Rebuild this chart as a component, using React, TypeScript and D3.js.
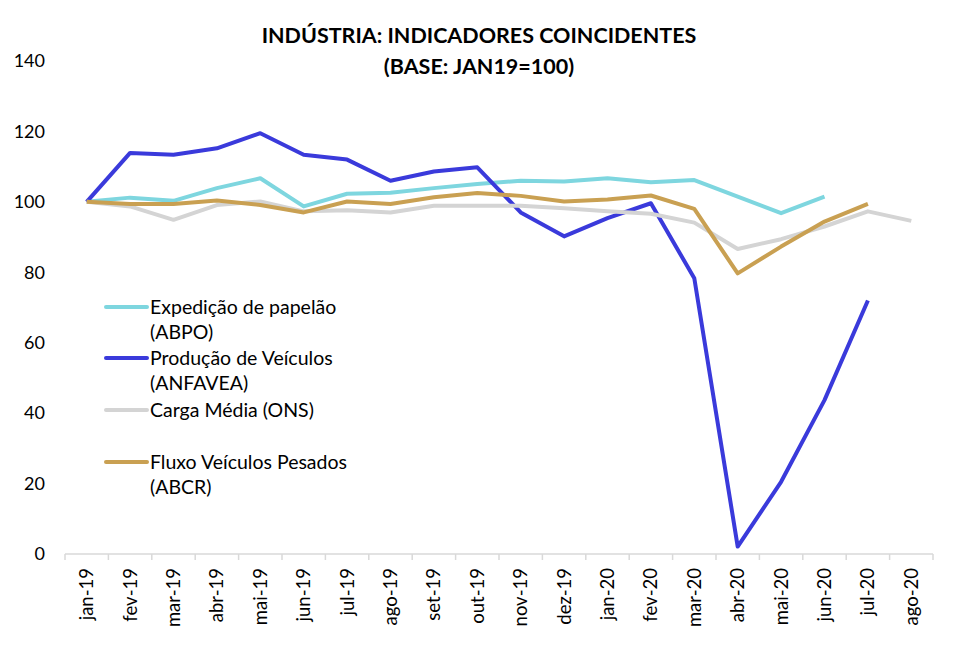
import React from "react";
import * as d3 from "d3";

const months = ["jan-19","fev-19","mar-19","abr-19","mai-19","jun-19","jul-19","ago-19","set-19","out-19","nov-19","dez-19","jan-20","fev-20","mar-20","abr-20","mai-20","jun-20","jul-20","ago-20"];
const papelao = [100,101.2,100.3,103.9,106.7,98.7,102.3,102.6,103.9,105.1,106,105.8,106.7,105.6,106.2,101.5,96.8,101.5,null,null];
const veiculos = [100,113.9,113.4,115.2,119.5,113.4,112,106,108.6,109.8,97,90.2,95.4,99.6,78.3,2.1,20.5,43.7,72,null];
const carga = [100,98.7,94.9,99.1,100.1,97.3,97.6,97,98.9,98.9,98.9,98.2,97.3,96.6,94.1,86.6,89.4,93,97.3,94.6];
const pesados = [100,99.4,99.4,100.4,99.1,97,100.1,99.4,101.3,102.5,101.7,100.1,100.7,101.8,98,79.7,87.3,94.4,99.4,null];
const yTicks = [0,20,40,60,80,100,120,140];

const series = [
  { name: ["Expedição de papelão", "(ABPO)"], values: papelao, color: "#7ed6df" },
  { name: ["Produção de Veículos", "(ANFAVEA)"], values: veiculos, color: "#3a3adb" },
  { name: ["Carga Média (ONS)"], values: carga, color: "#d4d4d4" },
  { name: ["Fluxo Veículos Pesados", "(ABCR)"], values: pesados, color: "#c9a052" },
];

export default function App() {
  const W = 958, H = 648;
  const left = 65, right = 933, top = 61, bottom = 554;
  const font = "Lato, sans-serif";
  const x = d3.scaleBand().domain(months).range([left, right]);
  const y = d3.scaleLinear().domain([0, 140]).range([bottom, top]);
  const cx = (m: string) => (x(m) as number) + x.bandwidth() / 2;
  const line = d3.line<number | null>()
    .defined((d) => d != null)
    .x((_, i) => cx(months[i]))
    .y((d) => y(d as number));
  const legendY = [307, 358, 410, 462];
  return (
    <svg width={W} height={H} style={{ position: "absolute", left: 0, top: 0 }} fontFamily={font}>
      <rect width={W} height={H} fill="#fff" />
      <text x={479} y={35} dy="0.35em" textAnchor="middle" fontSize={21.5} fontWeight="bold" fill="#000">INDÚSTRIA: INDICADORES COINCIDENTES</text>
      <text x={479} y={66} dy="0.35em" textAnchor="middle" fontSize={21.5} fontWeight="bold" fill="#000">(BASE: JAN19=100)</text>
      {yTicks.map((t) => (
        <text key={t} x={45} y={y(t)} dy="0.35em" textAnchor="end" fontSize={18} fill="#000">{t}</text>
      ))}
      <line x1={left} x2={right} y1={bottom} y2={bottom} stroke="#d9d9d9" strokeWidth={1.5} />
      {months.map((m, i) => (
        <line key={"t" + i} x1={x(m) as number} x2={x(m) as number} y1={bottom} y2={bottom + 6} stroke="#d9d9d9" strokeWidth={1.5} />
      ))}
      <line x1={right} x2={right} y1={bottom} y2={bottom + 6} stroke="#d9d9d9" strokeWidth={1.5} />
      {months.map((m) => (
        <text key={m} transform={`translate(${cx(m)},${bottom + 14}) rotate(-90)`} textAnchor="end" dy="0.35em" fontSize={18.5} fill="#000">{m}</text>
      ))}
      {series.map((s, i) => (
        <path key={i} d={line(s.values) || ""} fill="none" stroke={s.color} strokeWidth={4} strokeLinejoin="round" />
      ))}
      {series.map((s, i) => (
        <g key={"l" + i}>
          <line x1={106} x2={147} y1={legendY[i]} y2={legendY[i]} stroke={s.color} strokeWidth={4} strokeLinecap="round" />
          {s.name.map((n, j) => (
            <text key={j} x={150} y={legendY[i] + j * 25} dy="0.35em" fontSize={19.5} fill="#000">{n}</text>
          ))}
        </g>
      ))}
    </svg>
  );
}
